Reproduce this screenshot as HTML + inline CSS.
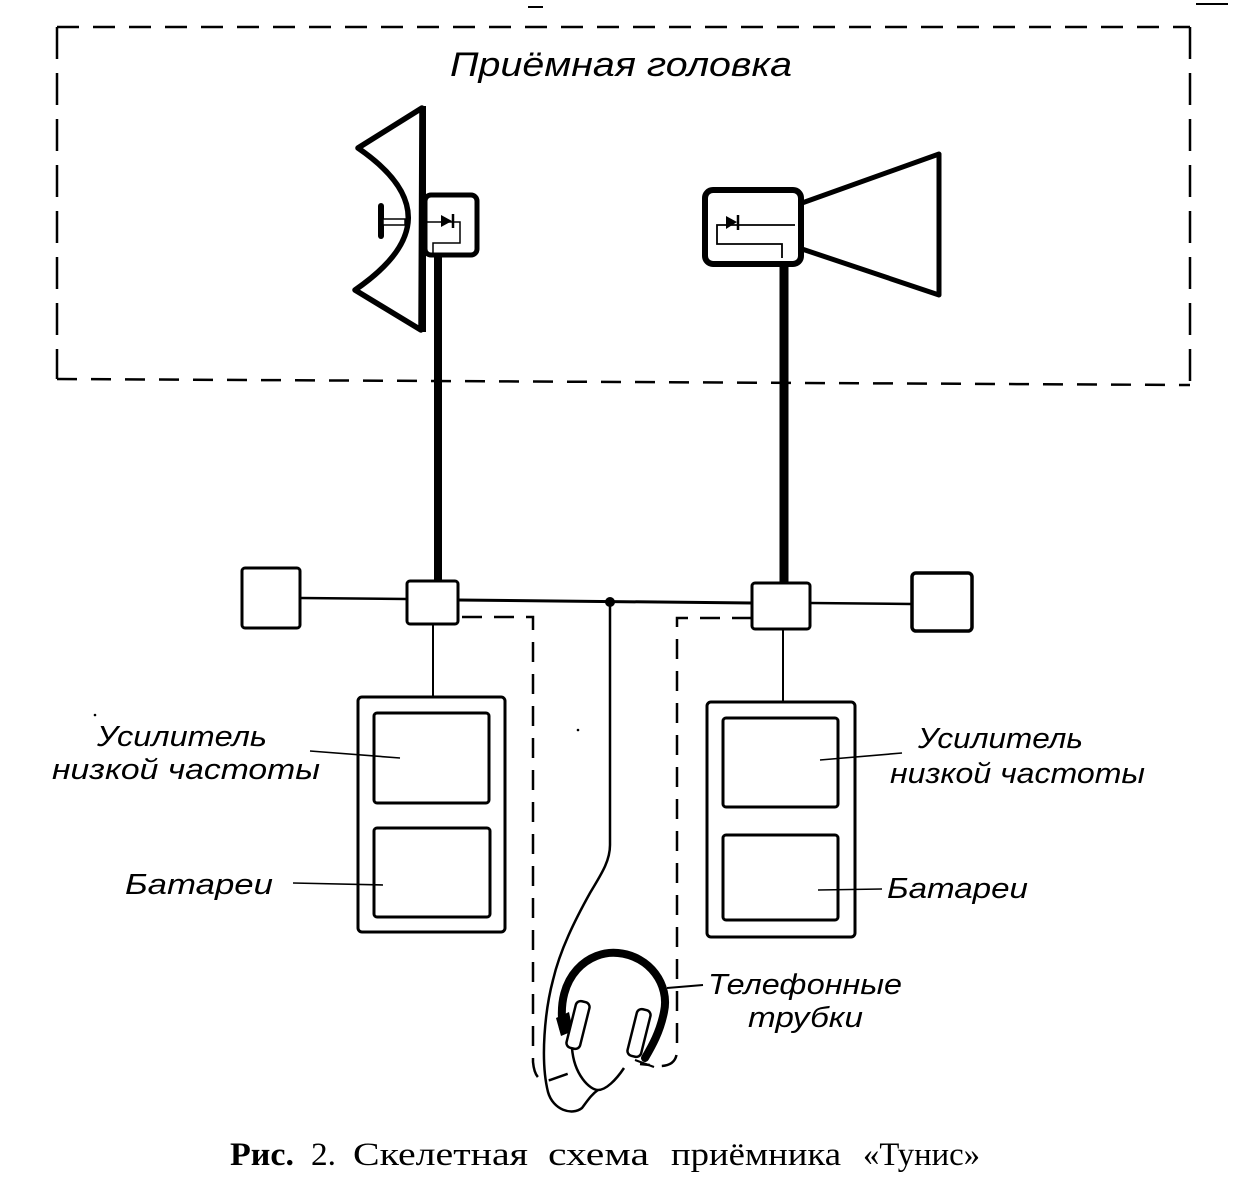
<!DOCTYPE html>
<html><head><meta charset="utf-8"><style>
html,body{margin:0;padding:0;background:#fff;}
svg{display:block;}
.lab{font-family:"Liberation Sans","Noto Sans CJK SC",sans-serif;font-style:italic;fill:#000;}
.cap{font-family:"Liberation Serif","Noto Serif CJK SC",serif;fill:#000;}
</style></head><body>
<svg width="1240" height="1192" viewBox="0 0 1240 1192" xmlns="http://www.w3.org/2000/svg">
<rect width="1240" height="1192" fill="#fff"/>
<!-- stray marks -->
<line x1="528" y1="7" x2="543" y2="7" stroke="#000" stroke-width="2"/>
<line x1="1196" y1="4" x2="1228" y2="4" stroke="#000" stroke-width="2"/>
<!-- dashed receiving head box -->
<g stroke="#000" stroke-width="2.5" fill="none">
<line x1="57" y1="27" x2="1190" y2="27" stroke-dasharray="22 14"/>
<line x1="57" y1="27" x2="57" y2="379" stroke-dasharray="32 14"/>
<line x1="1190" y1="27" x2="1190" y2="385" stroke-dasharray="32 14"/>
<line x1="57" y1="379" x2="1190" y2="385" stroke-dasharray="20 14"/>
</g>
<text class="lab" x="450" y="76" font-size="34" textLength="342" lengthAdjust="spacingAndGlyphs">Приёмная головка</text>

<!-- left dish antenna -->
<path d="M422 108 L358 148 Q460 218 355 290 L421 330 Z" fill="#fff" stroke="#000" stroke-width="5.5" stroke-linejoin="round"/>
<line x1="423" y1="106" x2="423" y2="332" stroke="#000" stroke-width="6"/>
<line x1="381" y1="206" x2="381" y2="236" stroke="#000" stroke-width="6" stroke-linecap="round"/>
<rect x="383" y="219" width="22" height="6" fill="#fff" stroke="#000" stroke-width="1.5"/>
<rect x="425" y="195" width="52" height="60" rx="6" fill="#fff" stroke="#000" stroke-width="5"/>
<path d="M427 222 L460 222 L460 243 L433 243 L433 253" fill="none" stroke="#000" stroke-width="1.5"/>
<path d="M441 215 L452 221 L441 227 Z" fill="#000"/>
<line x1="453" y1="214" x2="453" y2="228" stroke="#000" stroke-width="2.5"/>
<line x1="438" y1="255" x2="438" y2="584" stroke="#000" stroke-width="8"/>

<!-- right horn antenna -->
<path d="M802 203 L939 154 L939 295 L802 249" fill="none" stroke="#000" stroke-width="5" stroke-linejoin="round"/>
<rect x="705" y="190" width="96" height="74" rx="8" fill="#fff" stroke="#000" stroke-width="6"/>
<path d="M795 225 L717 225 L717 244 L782 244 L782 258" fill="none" stroke="#000" stroke-width="1.8"/>
<path d="M726 216 L737 222 L726 229 Z" fill="#000"/>
<line x1="738" y1="215" x2="738" y2="230" stroke="#000" stroke-width="2.5"/>
<line x1="784" y1="264" x2="784" y2="586" stroke="#000" stroke-width="9"/>

<!-- junction row -->
<g stroke="#000" fill="#fff">
<line x1="300" y1="598" x2="407" y2="599" stroke-width="2.5"/>
<line x1="458" y1="600" x2="752" y2="603" stroke-width="3"/>
<line x1="810" y1="603" x2="912" y2="604" stroke-width="2.5"/>
<rect x="242" y="568" width="58" height="60" rx="3" stroke-width="3"/>
<rect x="407" y="581" width="51" height="43" rx="3" stroke-width="3"/>
<rect x="752" y="583" width="58" height="46" rx="3" stroke-width="3"/>
<rect x="912" y="573" width="60" height="58" rx="4" stroke-width="3.5"/>
<line x1="433" y1="624" x2="433" y2="697" stroke-width="2"/>
<line x1="783" y1="629" x2="783" y2="702" stroke-width="2"/>
</g>
<circle cx="610" cy="602" r="5" fill="#000"/>

<!-- amplifier blocks -->
<g stroke="#000" fill="none" stroke-width="3">
<rect x="358" y="697" width="147" height="235" rx="4"/>
<rect x="374" y="713" width="115" height="90" rx="3"/>
<rect x="374" y="828" width="116" height="89" rx="3"/>
<rect x="707" y="702" width="148" height="235" rx="4"/>
<rect x="723" y="718" width="115" height="89" rx="3"/>
<rect x="723" y="835" width="115" height="85" rx="3"/>
</g>
<g stroke="#000" stroke-width="1.6">
<line x1="310" y1="751" x2="400" y2="758"/>
<line x1="293" y1="883" x2="383" y2="885"/>
<line x1="902" y1="753" x2="820" y2="760"/>
<line x1="882" y1="889" x2="818" y2="890"/>
</g>
<text class="lab" x="97" y="746" font-size="29" textLength="170" lengthAdjust="spacingAndGlyphs">Усилитель</text>
<text class="lab" x="52" y="779" font-size="29" textLength="268" lengthAdjust="spacingAndGlyphs">низкой частоты</text>
<text class="lab" x="125" y="894" font-size="29" textLength="148" lengthAdjust="spacingAndGlyphs">Батареи</text>
<text class="lab" x="918" y="748" font-size="29" textLength="165" lengthAdjust="spacingAndGlyphs">Усилитель</text>
<text class="lab" x="890" y="783" font-size="29" textLength="255" lengthAdjust="spacingAndGlyphs">низкой частоты</text>
<text class="lab" x="887" y="898" font-size="29" textLength="141" lengthAdjust="spacingAndGlyphs">Батареи</text>
<circle cx="95" cy="715" r="1.3" fill="#000"/>
<circle cx="578" cy="730" r="1.3" fill="#000"/>

<!-- dashed cords -->
<g stroke="#000" stroke-width="2.5" fill="none" stroke-dasharray="20 12">
<path d="M462 617 L533 617 L533 1062 Q535 1084 550 1080 L570 1073"/>
<path d="M752 618 L677 618 L677 1050 Q677 1066 660 1066 L640 1064"/>
</g>
<line x1="635" y1="1060" x2="654" y2="1067" stroke="#000" stroke-width="2"/>

<!-- solid cord -->
<g stroke="#000" stroke-width="2.5" fill="none">
<path d="M610 602 L610 845 C610 862 600 876 590 893 C575 920 560 950 553 980 C545 1010 540 1060 548 1092 C553 1110 572 1116 582 1108 C588 1100 592 1094 598 1090"/>
<path d="M572 1048 C574 1075 590 1090 598 1090 C606 1090 616 1080 624 1068"/>
</g>

<!-- headphones -->
<path d="M563 1028 C555 975 590 950 618 953 C650 956 670 985 664 1012 C660 1032 652 1046 645 1058" fill="none" stroke="#000" stroke-width="8" stroke-linecap="round"/>
<path d="M556 1018 L569 1012 L573 1031 L561 1036 Z" fill="#000"/>
<g transform="rotate(14 578 1025)"><rect x="571" y="1001" width="14" height="48" rx="5" fill="#fff" stroke="#000" stroke-width="2.5"/></g>
<g transform="rotate(14 639 1033)"><rect x="632" y="1009" width="14" height="48" rx="5" fill="#fff" stroke="#000" stroke-width="2.5"/></g>
<line x1="667" y1="988" x2="703" y2="985" stroke="#000" stroke-width="2"/>
<text class="lab" x="708" y="994" font-size="29" textLength="194" lengthAdjust="spacingAndGlyphs">Телефонные</text>
<text class="lab" x="748" y="1027" font-size="29" textLength="115" lengthAdjust="spacingAndGlyphs">трубки</text>

<!-- caption -->
<text class="cap" x="230" y="1165" font-size="33" font-weight="bold" textLength="64" lengthAdjust="spacingAndGlyphs">Рис.</text>
<text class="cap" x="311" y="1165" font-size="33" textLength="25" lengthAdjust="spacingAndGlyphs">2.</text>
<text class="cap" x="353" y="1165" font-size="33" textLength="175" lengthAdjust="spacingAndGlyphs">Скелетная</text>
<text class="cap" x="548" y="1165" font-size="33" textLength="101" lengthAdjust="spacingAndGlyphs">схема</text>
<text class="cap" x="671" y="1165" font-size="33" textLength="170" lengthAdjust="spacingAndGlyphs">приёмника</text>
<text class="cap" x="863" y="1165" font-size="33" textLength="117" lengthAdjust="spacingAndGlyphs">«Тунис»</text>
</svg>
</body></html>
